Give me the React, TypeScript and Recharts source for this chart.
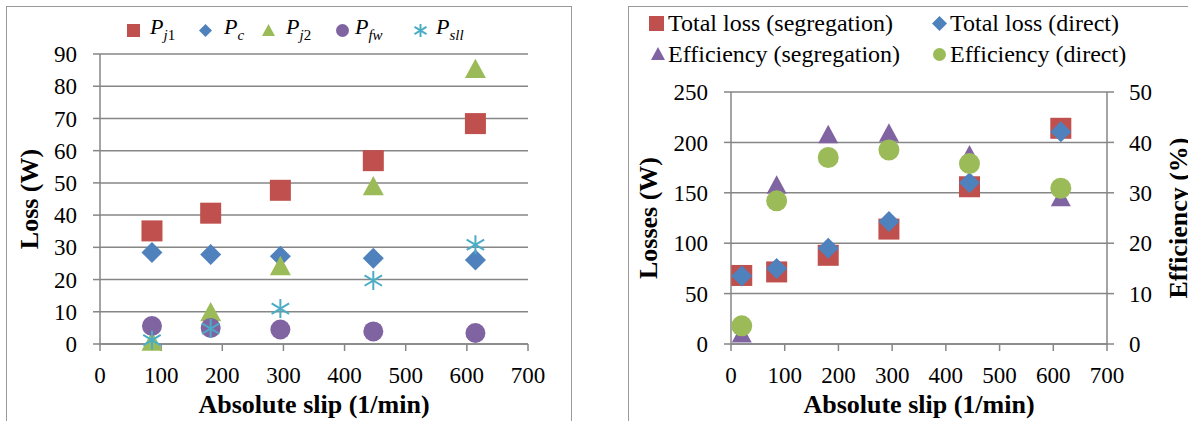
import React from 'react';
import { ScatterChart, Scatter, XAxis, YAxis, CartesianGrid } from 'recharts';

// ---------- data (left chart: loss components) ----------
const slipLeft = [85, 181, 295, 447, 614];
const pj1 = [35.1, 40.6, 47.7, 56.9, 68.4];
const pc = [28.4, 27.8, 27.2, 26.6, 26.1];
const pj2 = [0.7, 9.8, 24.1, 48.9, 85.3];
const pfw = [5.6, 5.0, 4.5, 3.9, 3.4];
const psll = [1.2, 4.8, 11.0, 19.7, 30.8];

// ---------- data (right chart: totals and efficiency) ----------
const slipRight = [20, 85, 181, 294, 444, 614];
const lossSeg = [68, 71.5, 88, 114, 156, 214];
const lossDirect = [67.5, 75, 95, 121.5, 160, 210.5];
const effSeg = [2, 31.5, 41.5, 41.8, 37.5, 29];
const effDirect = [3.6, 28.4, 37, 38.5, 35.8, 30.9];

// ---------- ticks ----------
const xTicks = [0, 100, 200, 300, 400, 500, 600, 700];
const lossTicksLeft = [0, 10, 20, 30, 40, 50, 60, 70, 80, 90];
const lossTicksRight = [0, 50, 100, 150, 200, 250];
const effTicks = [0, 10, 20, 30, 40, 50];

const COL = { red: '#C0504D', blue: '#4F81BD', green: '#9BBB59', purple: '#8064A2', cyan: '#4BACC6' };
const GRID = '#868686';
const FONT = '"Liberation Serif", "Times New Roman", serif';

const zip = (xs: number[], ys: number[]) => xs.map((x, i) => ({ x, y: ys[i] }));

type Kind = 'square' | 'diamond' | 'triangle' | 'circle' | 'asterisk';

function drawMarker(kind: Kind, cx: number, cy: number, s: number, color: string) {
  const h = s / 2;
  switch (kind) {
    case 'square':
      return <rect x={cx - h} y={cy - h} width={s} height={s} fill={color} />;
    case 'diamond':
      return <polygon points={`${cx},${cy - h} ${cx + h},${cy} ${cx},${cy + h} ${cx - h},${cy}`} fill={color} />;
    case 'triangle':
      return <polygon points={`${cx},${cy - h} ${cx + h},${cy + h * 0.85} ${cx - h},${cy + h * 0.85}`} fill={color} />;
    case 'circle':
      return <circle cx={cx} cy={cy} r={h} fill={color} />;
    case 'asterisk': {
      const a = h * 0.92;
      const b = h * 0.55;
      return (
        <g stroke={color} strokeWidth={2} fill="none">
          <line x1={cx} y1={cy - h} x2={cx} y2={cy + h} />
          <line x1={cx - a} y1={cy - b} x2={cx + a} y2={cy + b} />
          <line x1={cx - a} y1={cy + b} x2={cx + a} y2={cy - b} />
        </g>
      );
    }
  }
  return null;
}

const shapeOf = (kind: Kind, size: number, color: string) => (p: any) =>
  p && p.cx != null ? drawMarker(kind, p.cx, p.cy, size, color) : <g />;

const LegendIcon = ({ kind, size, color }: { kind: Kind; size: number; color: string }) => (
  <svg width={size + 4} height={size + 4} style={{ display: 'block' }}>
    {drawMarker(kind, (size + 4) / 2, (size + 4) / 2, size, color)}
  </svg>
);

const tickStyle = { fontFamily: FONT, fontSize: 23, fill: '#000' };
const titleStyle = { fontFamily: FONT, fontSize: 26, fontWeight: 700, fill: '#000' };

export default function App() {
  const leftLegend = [
    { kind: 'square' as Kind, color: COL.red, mx: 133, tx: 150, main: 'P', sub: [{ t: 'j', i: true }, { t: '1', i: false }] },
    { kind: 'diamond' as Kind, color: COL.blue, mx: 205, tx: 224, main: 'P', sub: [{ t: 'c', i: true }] },
    { kind: 'triangle' as Kind, color: COL.green, mx: 268, tx: 286, main: 'P', sub: [{ t: 'j', i: true }, { t: '2', i: false }] },
    { kind: 'circle' as Kind, color: COL.purple, mx: 342, tx: 355, main: 'P', sub: [{ t: 'fw', i: true }] },
    { kind: 'asterisk' as Kind, color: COL.cyan, mx: 420, tx: 436, main: 'P', sub: [{ t: 'sll', i: true }] },
  ];
  const rightLegend = [
    { kind: 'square' as Kind, color: COL.red, mx: 656, y: 23, tx: 668, label: 'Total loss (segregation)', s: 15 },
    { kind: 'diamond' as Kind, color: COL.blue, mx: 939, y: 23, tx: 950, label: 'Total loss (direct)', s: 15 },
    { kind: 'triangle' as Kind, color: COL.purple, mx: 658, y: 54, tx: 668, label: 'Efficiency (segregation)', s: 14 },
    { kind: 'circle' as Kind, color: COL.green, mx: 939, y: 54, tx: 950, label: 'Efficiency (direct)', s: 13 },
  ];

  return (
    <div style={{ position: 'absolute', left: 0, top: 0, width: 1188, height: 421, overflow: 'hidden', background: '#fff', fontFamily: FONT }}>
      {/* frames */}
      <div style={{ position: 'absolute', left: 6, top: 6, width: 566, height: 430, border: '1px solid #9a9a9a', boxSizing: 'border-box' }} />
      <div style={{ position: 'absolute', left: 628, top: 6, width: 600, height: 430, border: '1px solid #9a9a9a', boxSizing: 'border-box' }} />

      {/* left chart */}
      <div style={{ position: 'absolute', left: 7, top: 6 }}>
        <ScatterChart width={565} height={415} margin={{ top: 48, right: 44, left: 0, bottom: 0 }}>
          <CartesianGrid vertical={false} stroke={GRID} strokeWidth={1.5} />
          <XAxis dataKey="x" type="number" domain={[0, 700]} ticks={xTicks} height={77} tickSize={7} tickMargin={16} stroke={GRID} strokeWidth={1.5} tick={tickStyle}
            label={{ value: 'Absolute slip (1/min)', position: 'insideBottom', offset: 8, style: titleStyle }} />
          <YAxis dataKey="y" type="number" domain={[0, 90]} ticks={lossTicksLeft} width={93} tickSize={7} tickMargin={16} stroke={GRID} strokeWidth={1.5} tick={tickStyle}
            label={{ value: 'Loss (W)', angle: -90, position: 'insideLeft', offset: 22, style: { ...titleStyle, textAnchor: 'middle' } }} />
          <Scatter name="Pj1" data={zip(slipLeft, pj1)} isAnimationActive={false} shape={shapeOf('square', 21, COL.red)} />
          <Scatter name="Pc" data={zip(slipLeft, pc)} isAnimationActive={false} shape={shapeOf('diamond', 21, COL.blue)} />
          <Scatter name="Pj2" data={zip(slipLeft, pj2)} isAnimationActive={false} shape={shapeOf('triangle', 21, COL.green)} />
          <Scatter name="Pfw" data={zip(slipLeft, pfw)} isAnimationActive={false} shape={shapeOf('circle', 20, COL.purple)} />
          <Scatter name="Psll" data={zip(slipLeft, psll)} isAnimationActive={false} shape={shapeOf('asterisk', 19, COL.cyan)} />
        </ScatterChart>
      </div>

      {/* left legend */}
      {leftLegend.map((it, k) => (
        <React.Fragment key={k}>
          <div style={{ position: 'absolute', left: it.mx - 8.5, top: 30 - 8.5 }}>
            <LegendIcon kind={it.kind} size={13} color={it.color} />
          </div>
          <div style={{ position: 'absolute', left: it.tx, top: 14, fontSize: 22, lineHeight: '26px', whiteSpace: 'nowrap' }}>
            <span style={{ fontStyle: 'italic' }}>{it.main}</span>
            <span style={{ fontSize: 15, position: 'relative', top: 6 }}>
              {it.sub.map((s, j) => (
                <span key={j} style={{ fontStyle: s.i ? 'italic' : 'normal' }}>{s.t}</span>
              ))}
            </span>
          </div>
        </React.Fragment>
      ))}

      {/* right chart */}
      <div style={{ position: 'absolute', left: 628, top: 6 }}>
        <ScatterChart width={560} height={415} margin={{ top: 86, right: 0, left: 0, bottom: 0 }}>
          <CartesianGrid vertical={false} stroke={GRID} strokeWidth={1.5} yAxisId="loss" />
          <XAxis dataKey="x" type="number" domain={[0, 700]} ticks={xTicks} height={77} tickSize={7} tickMargin={16} stroke={GRID} strokeWidth={1.5} tick={tickStyle}
            label={{ value: 'Absolute slip (1/min)', position: 'insideBottom', offset: 8, style: titleStyle }} />
          <YAxis yAxisId="loss" dataKey="y" type="number" domain={[0, 250]} ticks={lossTicksRight} width={103} tickSize={7} tickMargin={16} stroke={GRID} strokeWidth={1.5} tick={tickStyle}
            label={{ value: 'Losses (W)', angle: -90, position: 'insideLeft', offset: 20, style: { ...titleStyle, textAnchor: 'middle' } }} />
          <YAxis yAxisId="eff" orientation="right" dataKey="y" type="number" domain={[0, 50]} ticks={effTicks} width={81} tickSize={7} tickMargin={15} stroke={GRID} strokeWidth={1.5} tick={tickStyle}
            label={{ value: 'Efficiency (%)', angle: -90, position: 'insideRight', offset: 10, style: { ...titleStyle, textAnchor: 'middle' } }} />
          <Scatter yAxisId="loss" name="Total loss (segregation)" data={zip(slipRight, lossSeg)} isAnimationActive={false} shape={shapeOf('square', 21, COL.red)} />
          <Scatter yAxisId="loss" name="Total loss (direct)" data={zip(slipRight, lossDirect)} isAnimationActive={false} shape={shapeOf('diamond', 21, COL.blue)} />
          <Scatter yAxisId="eff" name="Efficiency (segregation)" data={zip(slipRight, effSeg)} isAnimationActive={false} shape={shapeOf('triangle', 20, COL.purple)} />
          <Scatter yAxisId="eff" name="Efficiency (direct)" data={zip(slipRight, effDirect)} isAnimationActive={false} shape={shapeOf('circle', 21, COL.green)} />
        </ScatterChart>
      </div>

      {/* right legend */}
      {rightLegend.map((it, k) => (
        <React.Fragment key={k}>
          <div style={{ position: 'absolute', left: it.mx - (it.s + 4) / 2, top: it.y - (it.s + 4) / 2 }}>
            <LegendIcon kind={it.kind} size={it.s} color={it.color} />
          </div>
          <div style={{ position: 'absolute', left: it.tx, top: it.y - 14, fontSize: 24, lineHeight: '28px', whiteSpace: 'nowrap' }}>
            {it.label}
          </div>
        </React.Fragment>
      ))}
    </div>
  );
}
